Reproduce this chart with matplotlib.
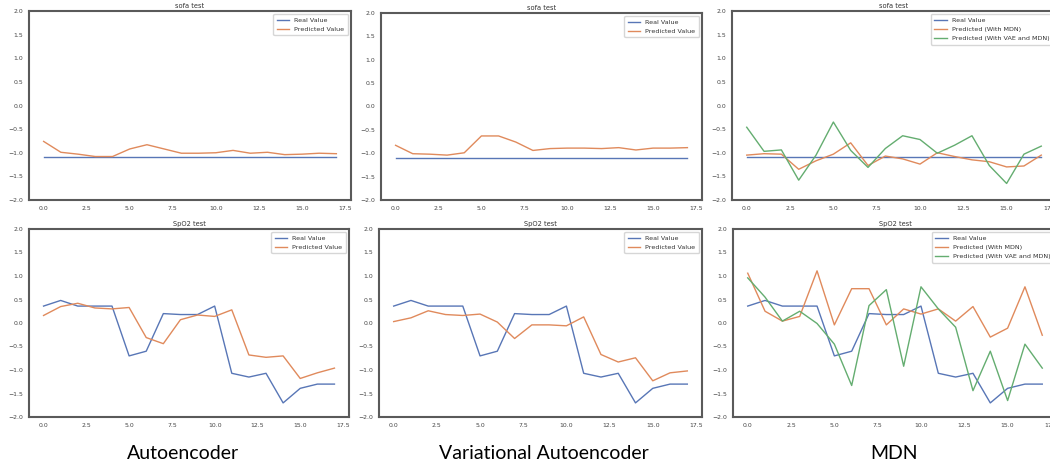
import matplotlib
matplotlib.use("Agg")
import matplotlib.pyplot as plt
import numpy as np

# DATA
steps = list(range(18))

sofa_real = [-1.1] * 18
spo2_real = [0.36, 0.48, 0.36, 0.36, 0.36, -0.70, -0.60, 0.20, 0.18, 0.18,
             0.36, -1.07, -1.15, -1.07, -1.70, -1.39, -1.30, -1.30]

ae_sofa_pred = [-0.76, -0.99, -1.03, -1.08, -1.08, -0.92, -0.83, -0.92, -1.01, -1.01,
                -1.00, -0.95, -1.01, -0.99, -1.04, -1.03, -1.01, -1.02]
vae_sofa_pred = [-0.83, -1.01, -1.02, -1.04, -0.99, -0.63, -0.63, -0.76, -0.94, -0.90,
                 -0.89, -0.89, -0.90, -0.88, -0.93, -0.89, -0.89, -0.88]
mdn_sofa_pred = [-1.05, -1.02, -1.03, -1.35, -1.17, -1.03, -0.79, -1.27, -1.07, -1.13,
                 -1.24, -1.00, -1.08, -1.15, -1.19, -1.30, -1.28, -1.05]
vae_mdn_sofa_pred = [-0.46, -0.97, -0.94, -1.58, -1.05, -0.35, -0.95, -1.31, -0.91, -0.64,
                     -0.72, -1.01, -0.84, -0.64, -1.27, -1.65, -1.03, -0.86]

ae_spo2_pred = [0.16, 0.35, 0.42, 0.32, 0.30, 0.33, -0.31, -0.44, 0.07, 0.17,
                0.14, 0.28, -0.68, -0.73, -0.70, -1.18, -1.06, -0.96]
vae_spo2_pred = [0.03, 0.11, 0.26, 0.18, 0.16, 0.19, 0.02, -0.33, -0.04, -0.04,
                 -0.06, 0.13, -0.67, -0.83, -0.74, -1.23, -1.06, -1.02]
mdn_spo2_pred = [1.06, 0.25, 0.04, 0.14, 1.11, -0.04, 0.73, 0.73, -0.04, 0.30,
                 0.19, 0.30, 0.04, 0.35, -0.30, -0.11, 0.77, -0.26]
vae_mdn_spo2_pred = [0.96, 0.55, 0.04, 0.25, -0.01, -0.45, -1.33, 0.37, 0.71, -0.92,
                     0.77, 0.30, -0.09, -1.44, -0.60, -1.65, -0.45, -0.96]

model_names = ["Autoencoder", "Variational Autoencoder", "MDN"]

# STYLE
BLUE = "#5876b6"
ORANGE = "#e08a5c"
GREEN = "#64ad70"
plt.rcParams["font.family"] = ["DejaVu Sans"]
plt.rcParams["axes.edgecolor"] = "#5a5a5a"
plt.rcParams["axes.linewidth"] = 1.5
plt.rcParams["xtick.color"] = "#444444"
plt.rcParams["ytick.color"] = "#444444"

W, H = 1050, 463
fig = plt.figure(figsize=(W / 100, H / 100), dpi=100)


def px_axes(left, top, right, bottom):
    # pixel box (from top-left) -> figure fraction
    return fig.add_axes([left / W, 1 - bottom / H, (right - left) / W, (bottom - top) / H])


def style(ax, title):
    ax.set_ylim(-2.0, 2.0)
    ax.set_yticks(np.arange(-2.0, 2.01, 0.5))
    ax.set_xticks(np.arange(0, 17.6, 2.5))
    ax.tick_params(length=0, labelsize=4.4, pad=4)
    ax.set_title(title, fontsize=4.8, pad=2.5, color="#333333")
    leg = ax.legend(loc="upper right", fontsize=4.6, frameon=True, edgecolor="#cccccc",
                    fancybox=True, borderpad=0.5, handlelength=2.0, labelspacing=0.6)
    for t in leg.get_texts():
        t.set_color("#333333")


boxes_top = [(29, 11, 351, 200), (381, 13, 702, 200), (732, 11, 1056, 200)]
boxes_bot = [(29, 229, 349, 417), (379, 229, 702, 417), (733, 229, 1057, 417)]

# top row: sofa
ax = px_axes(*boxes_top[0])
ax.plot(steps, sofa_real, color=BLUE, lw=1.0, label="Real Value")
ax.plot(steps, ae_sofa_pred, color=ORANGE, lw=1.0, label="Predicted Value")
style(ax, "sofa test")

ax = px_axes(*boxes_top[1])
ax.plot(steps, sofa_real, color=BLUE, lw=1.0, label="Real Value")
ax.plot(steps, vae_sofa_pred, color=ORANGE, lw=1.0, label="Predicted Value")
style(ax, "sofa test")

ax = px_axes(*boxes_top[2])
ax.plot(steps, sofa_real, color=BLUE, lw=1.0, label="Real Value")
ax.plot(steps, mdn_sofa_pred, color=ORANGE, lw=1.0, label="Predicted (With MDN)")
ax.plot(steps, vae_mdn_sofa_pred, color=GREEN, lw=1.0, label="Predicted (With VAE and MDN)")
style(ax, "sofa test")

# bottom row: SpO2
ax = px_axes(*boxes_bot[0])
ax.plot(steps, spo2_real, color=BLUE, lw=1.0, label="Real Value")
ax.plot(steps, ae_spo2_pred, color=ORANGE, lw=1.0, label="Predicted Value")
style(ax, "SpO2 test")

ax = px_axes(*boxes_bot[1])
ax.plot(steps, spo2_real, color=BLUE, lw=1.0, label="Real Value")
ax.plot(steps, vae_spo2_pred, color=ORANGE, lw=1.0, label="Predicted Value")
style(ax, "SpO2 test")

ax = px_axes(*boxes_bot[2])
ax.plot(steps, spo2_real, color=BLUE, lw=1.0, label="Real Value")
ax.plot(steps, mdn_spo2_pred, color=ORANGE, lw=1.0, label="Predicted (With MDN)")
ax.plot(steps, vae_mdn_spo2_pred, color=GREEN, lw=1.0, label="Predicted (With VAE and MDN)")
style(ax, "SpO2 test")

# model captions under each column
for name, cx in zip(model_names, [183, 544, 894]):
    fig.text(cx / W, 1 - 459 / H, name, ha="center", va="baseline", fontsize=14,
             family=["Lato", "DejaVu Sans"], color="black")

fig.savefig("out.png", dpi=100)
